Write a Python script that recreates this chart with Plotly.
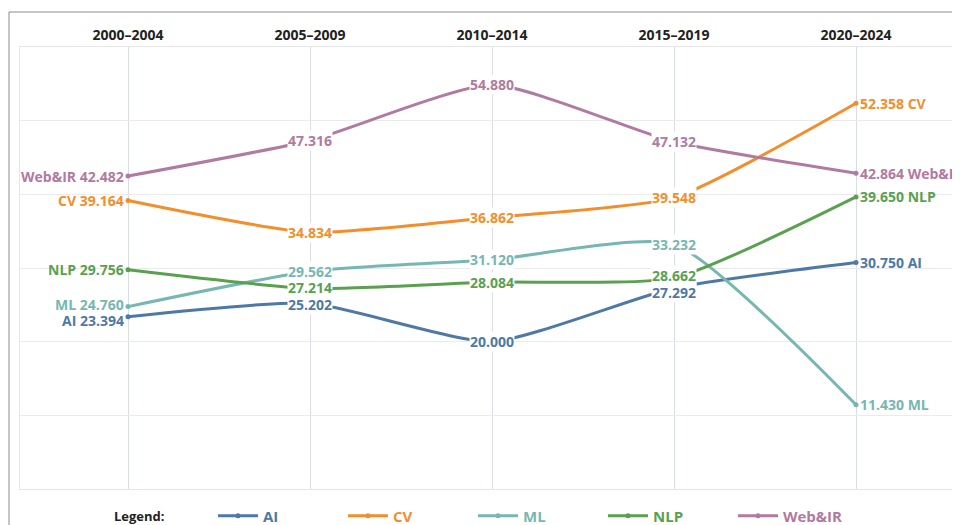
import plotly.graph_objects as go

periods = ["2000–2004", "2005–2009", "2010–2014", "2015–2019", "2020–2024"]
series_names = ["AI", "CV", "ML", "NLP", "Web&IR"]
ai = [23.394, 25.202, 20.000, 27.292, 30.750]
cv = [39.164, 34.834, 36.862, 39.548, 52.358]
ml = [24.760, 29.562, 31.120, 33.232, 11.430]
nlp = [29.756, 27.214, 28.084, 28.662, 39.650]
webir = [42.482, 47.316, 54.880, 47.132, 42.864]
colors = ["#4e79a7", "#f28e2b", "#76b7b2", "#59a14f", "#b07aa1"]

all_values = [ai, cv, ml, nlp, webir]
FONT = "Open Sans"

PLOT_H = 442
Y_MAX = 60
PX_PER_UNIT = PLOT_H / Y_MAX
MIN_GAP = 16.5

fig = go.Figure()
xs = list(range(len(periods)))
for name, vals, col in zip(series_names, all_values, colors):
    fig.add_trace(go.Scatter(
        x=xs, y=vals, mode="lines+markers",
        name=f"<span style='color:{col}'><b>{name}</b></span>",
        line=dict(color=col, width=3, shape="spline", smoothing=0.55),
        marker=dict(color=col, size=5),
        hoverinfo="skip",
    ))

# label de-overlap per column (pixel shift, positive = up)
shifts = {}
for i in range(len(periods)):
    items = sorted(((vals[i] * PX_PER_UNIT, k) for k, vals in enumerate(all_values)), reverse=True)
    pos = [p for p, _ in items]
    for _ in range(20):
        for j in range(len(pos) - 1):
            gap = pos[j] - pos[j + 1]
            if gap < MIN_GAP:
                need = MIN_GAP - gap
                pos[j] += need / 3
                pos[j + 1] -= 2 * need / 3
    for (p0, k), p in zip(items, pos):
        shifts[(k, i)] = p - p0

annotations = []
for k, (name, vals, col) in enumerate(zip(series_names, all_values, colors)):
    for i, v in enumerate(vals):
        if i == 0:
            txt, xa, xs_ = f"{name} {v:.3f}", "right", -3
        elif i == len(vals) - 1:
            txt, xa, xs_ = f"{v:.3f} {name}", "left", 3
        else:
            txt, xa, xs_ = f"{v:.3f}", "center", 0
        annotations.append(dict(
            x=i, y=v, xref="x", yref="y", text=f"<b>{txt}</b>", showarrow=False,
            xanchor=xa, yanchor="middle", xshift=xs_, yshift=shifts[(k, i)],
            font=dict(family=FONT, size=14, color=col),
            bgcolor="white" if 0 < i < len(vals) - 1 else "rgba(0,0,0,0)",
            borderpad=0,
        ))

LEG_Y = -27 / PLOT_H
annotations.append(dict(
    x=(112 - 20) / 940, y=LEG_Y, xref="paper", yref="paper",
    text="<b>Legend:</b>", showarrow=False, xanchor="left", yanchor="middle",
    font=dict(family=FONT, size=13, color="#222"),
))

fig.update_layout(
    width=952, height=517,
    margin=dict(l=12, r=0, t=39, b=36, autoexpand=False),
    paper_bgcolor="white", plot_bgcolor="white",
    font=dict(family=FONT, size=14, color="#222"),
    annotations=annotations,
    showlegend=True,
    legend=dict(
        orientation="h", x=(213 - 20) / 940, xanchor="left", y=LEG_Y, yanchor="middle",
        entrywidth=75, entrywidthmode="pixels", itemwidth=40,
        font=dict(family=FONT, size=15),
        itemclick=False, itemdoubleclick=False,
        bgcolor="rgba(0,0,0,0)",
    ),
    shapes=[dict(type="rect", xref="paper", yref="paper",
                 x0=(9 - 20) / 940, x1=1.05, y0=-0.3, y1=(489 - 12) / PLOT_H,
                 line=dict(color="#8c8c8c", width=1), fillcolor="rgba(0,0,0,0)", layer="below")],
)

fig.update_xaxes(
    tickmode="array", tickvals=xs, ticktext=[f"<b>{p}</b>" for p in periods],
    side="top", range=[-108 / 182, 4 + 104 / 182],
    showgrid=True, gridcolor="#d9dde5", gridwidth=1,
    showline=True, linecolor="#e6e6e6", mirror=True,
    ticks="", tickfont=dict(family=FONT, size=14, color="#222"),
    zeroline=False,
)
fig.update_yaxes(
    range=[0, Y_MAX], dtick=10, showticklabels=False,
    showgrid=True, gridcolor="#ebebeb", gridwidth=1,
    showline=True, linecolor="#e6e6e6", mirror=True,
    zeroline=False,
)

fig.write_html("out.html")
